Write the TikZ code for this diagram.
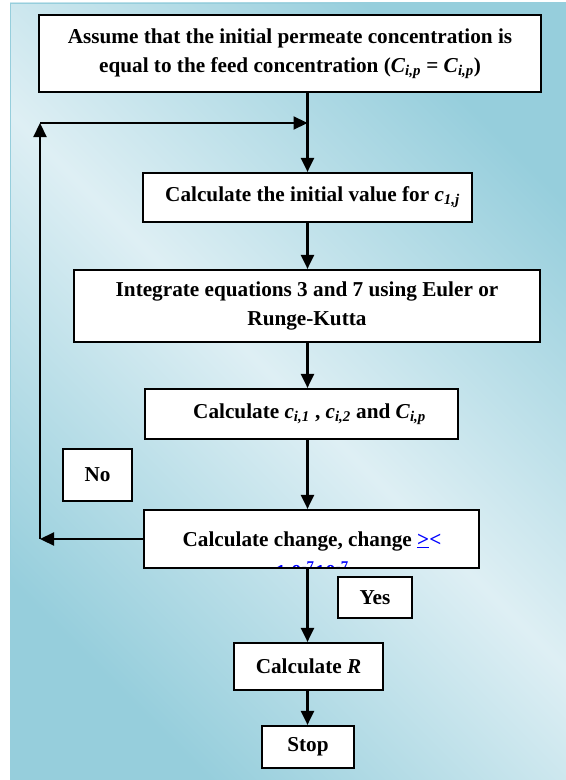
\documentclass[tikz,border=0pt]{standalone}
\usepackage{fontspec}
\setmainfont{Liberation Serif}
\usetikzlibrary{arrows.meta}
\definecolor{bgdark}{RGB}{150,206,220}
\definecolor{bglight}{RGB}{222,239,244}
\definecolor{wordblue}{RGB}{0,0,255}
\newcommand\bi[1]{\textbf{\textit{#1}}}
\newcommand\bsub[1]{\textsubscript{\bi{#1}}}
\begin{document}
\begin{tikzpicture}[x=1bp,y=-1bp,
  box/.style={draw=black, fill=white, line width=2.2bp, inner sep=0pt, align=center,
    font=\fontsize{21.3}{29}\selectfont\bfseries},
  lbl/.style={inner sep=0pt, align=center, font=\fontsize{21.3}{29}\selectfont\bfseries},
  conn/.style={line width=2.2bp, -{Triangle[length=14bp,width=13bp]}}]
\useasboundingbox (0,0) rectangle (566,780);
\shade[shading=axis, top color=bgdark, bottom color=bgdark, middle color=bglight, shading angle=-45]
  (10,3) rectangle (566,780);
\draw[bgdark, line width=1bp] (10.5,780) -- (10.5,3.5) -- (566,3.5);

% boxes
\node[box, minimum width=502bp, minimum height=77bp] (b1) at (290,53.5)
  {Assume that the initial permeate concentration is\\
   equal to the feed concentration (\bi{C}\bsub{i,p} = \bi{C}\bsub{i,p})};
\node[box, minimum width=329bp, minimum height=49bp] (b2) at (307.5,197.5)
  {\hspace{10bp}Calculate the initial value for \bi{c}\bsub{1,j}};
\node[box, minimum width=466bp, minimum height=72bp] (b3) at (307,306)
  {Integrate equations 3 and 7 using Euler or\\ Runge-Kutta};
\node[box, minimum width=313bp, minimum height=50bp] (b4) at (301.5,414)
  {\hspace{16bp}Calculate \bi{c}\bsub{i,1} , \bi{c}\bsub{i,2} and \bi{C}\bsub{i,p}};
\node[box, minimum width=69bp, minimum height=52bp] (no) at (97.5,475) {No};
\node[box, minimum width=335bp, minimum height=58bp] (b5) at (311.5,539) {};
\node[lbl, anchor=base] (t5) at (312,546)
  {Calculate change, change \textcolor{wordblue}{\underline{>}<}};
\begin{scope}
  \clip (145,511) rectangle (478,566.5);
  \node[lbl, anchor=base, text=wordblue] (t5b) at (312,579)
    {1.0\textsuperscript{-7}10\textsuperscript{-7}};
\end{scope}
\node[box, minimum width=74bp, minimum height=41bp] (yes) at (375,597.5) {Yes};
\node[box, minimum width=149bp, minimum height=47bp] (bR) at (308.5,666.5) {Calculate \bi{R}};
\node[box, minimum width=92bp, minimum height=42bp] (stop) at (308,747) {Stop};

% connector coordinates
\coordinate (mx) at (307.5,0);
\coordinate (fbL) at (40,539);
\coordinate (fbT) at (40,123);
\coordinate (fbR) at (307.5,123);

% connectors
\draw[conn] (b1.south -| mx) -- (b2.north -| mx);
\draw[conn] (b2.south -| mx) -- (b3.north -| mx);
\draw[conn] (b3.south -| mx) -- (b4.north -| mx);
\draw[conn] (b4.south -| mx) -- (b5.north -| mx);
\draw[conn] (b5.south -| mx) -- (bR.north -| mx);
\draw[conn] (bR.south -| mx) -- (stop.north -| mx);
\draw[conn] (b5.west) -- (fbL);
\draw[conn] (fbL) -- (fbT);
\draw[conn] (fbT) -- (fbR);
\end{tikzpicture}
\end{document}
